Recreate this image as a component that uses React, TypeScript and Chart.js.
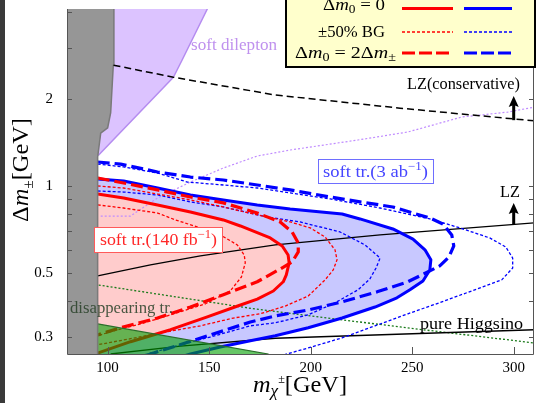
import React, { useEffect, useRef } from "react";
import { Chart, registerables } from "chart.js";

Chart.register(...registerables);

type P = [number, number];

// ---------- axes ----------
const xRange = [80, 310];
const yRange = [0.262, 4.1];
const xTicks = [100, 150, 200, 250, 300];
const yMajorTicks = [0.3, 0.5, 1, 2];
const yMinorTicks = [0.4, 0.6, 0.7, 0.8, 0.9, 3, 4];

// ---------- regions (m_chi [GeV], Delta m [GeV]) ----------
const grayEdge: P[] = [[95.1, 0.2], [95.1, 1.26], [96.6, 1.525], [100.0, 1.588], [101.5, 1.79], [102.8, 2.62], [103.1, 4.1]];
const dileptonEdge: P[] = [[95.6, 1.28], [132.4, 2.38], [136.7, 2.73], [143.2, 3.38], [149.1, 4.1], [161, 6]];
const disappearingEdge: P[] = [[95.1, 0.333], [179.1, 0.262]];

// ---------- lines ----------
const lzConservative: P[] = [[102.9, 2.62], [132.4, 2.38], [182.6, 2.065], [244.0, 1.86], [310.3, 1.68]];
const lz: P[] = [[95.1, 0.488], [121.1, 0.533], [145.7, 0.573], [182.6, 0.625], [234.2, 0.677], [310.3, 0.745]];
const pureHiggsino: P[] = [[101.5, 0.262], [135.9, 0.279], [182.6, 0.297], [311, 0.318]];
const disappearingDotted: P[] = [[95.6, 0.454], [172.7, 0.375], [244.0, 0.325], [310.3, 0.286]];
const dileptonDotted: P[] = [[96.6, 0.787], [111.3, 0.787], [124.6, 0.909], [140.8, 1.032], [157.0, 1.154], [173.7, 1.27], [189.9, 1.332], [223.3, 1.443], [247.9, 1.538], [274.4, 1.733], [297.0, 1.802], [310.3, 1.876]];

// ---------- soft track contours ----------
const redSolid: P[] = [[95.1, 0.938], [107.9, 0.909], [124.6, 0.86], [140.8, 0.813], [157.0, 0.763], [165.4, 0.727], [180.1, 0.661], [186.0, 0.62], [188.9, 0.577], [189.4, 0.542], [188.0, 0.492], [186.5, 0.466], [181.6, 0.433], [173.7, 0.406], [164.4, 0.385], [149.1, 0.352], [131.0, 0.318], [111.3, 0.289], [95.1, 0.264]];
const redDashed: P[] = [[95.1, 1.066], [107.9, 1.024], [124.6, 0.969], [140.8, 0.916], [157.0, 0.874], [173.7, 0.806], [185.0, 0.751], [190.9, 0.693], [193.9, 0.635], [193.9, 0.591], [190.9, 0.546], [185.0, 0.516], [173.7, 0.466], [157.0, 0.42], [140.8, 0.381], [124.6, 0.349], [106.4, 0.323], [95.1, 0.305]];
const redDottedOuter: P[] = [[95.1, 1.0], [107.9, 0.984], [124.6, 0.938], [140.8, 0.895], [157.0, 0.846], [173.7, 0.794], [189.9, 0.751], [199.8, 0.716], [207.1, 0.666], [212.0, 0.601], [213.0, 0.555], [211.1, 0.512], [207.1, 0.473], [198.8, 0.416], [187.5, 0.384], [175.2, 0.361], [161.9, 0.349], [145.7, 0.328], [126.0, 0.31], [111.3, 0.296], [95.1, 0.282]];
const redDottedInner: P[] = [[95.1, 0.86], [107.9, 0.839], [124.6, 0.806], [133.4, 0.763], [145.7, 0.716], [156.5, 0.671], [163.9, 0.625], [167.3, 0.577], [167.8, 0.542], [165.9, 0.484], [160.4, 0.433], [148.2, 0.391], [131.0, 0.358], [116.2, 0.333], [101.5, 0.313], [95.1, 0.303]];
const blueSolid: P[] = [[95.1, 1.057], [107.9, 1.041], [124.6, 0.984], [140.8, 0.931], [157.0, 0.895], [173.7, 0.86], [189.9, 0.833], [215.5, 0.8], [224.3, 0.769], [240.5, 0.71], [250.4, 0.655], [256.3, 0.601], [259.2, 0.555], [258.7, 0.512], [255.3, 0.469], [248.9, 0.437], [242.5, 0.41], [231.7, 0.381], [215.5, 0.349], [198.8, 0.323], [182.6, 0.303], [170.3, 0.291], [155.5, 0.277], [140.8, 0.262], [135.9, 0.256]];
const blueDashed: P[] = [[95.1, 1.211], [106.4, 1.191], [124.6, 1.118], [140.8, 1.074], [157.0, 1.049], [173.7, 1.008], [189.9, 0.969], [209.6, 0.916], [224.3, 0.881], [240.5, 0.846], [250.4, 0.806], [258.7, 0.775], [265.1, 0.739], [269.5, 0.677], [270.5, 0.62], [268.1, 0.568], [263.6, 0.529], [258.7, 0.508], [247.9, 0.466], [232.7, 0.43], [215.5, 0.397], [198.8, 0.372], [182.6, 0.355], [170.3, 0.338], [150.6, 0.305], [133.4, 0.279], [119.7, 0.26]];
const blueDottedOuter: P[] = [[95.1, 1.191], [107.9, 1.164], [124.6, 1.109], [139.3, 1.032], [157.0, 1.008], [173.7, 0.984], [189.9, 0.946], [209.6, 0.902], [234.2, 0.839], [258.7, 0.769], [273.5, 0.716], [288.2, 0.661], [296.1, 0.615], [299.5, 0.563], [299.5, 0.52], [294.1, 0.473], [280.8, 0.437], [264.6, 0.397], [247.9, 0.361], [231.7, 0.328], [215.5, 0.298], [198.8, 0.275], [185.0, 0.258]];
const blueDottedInner: P[] = [[95.1, 0.961], [107.9, 0.953], [124.6, 0.931], [140.8, 0.881], [157.0, 0.846], [178.6, 0.781], [194.8, 0.751], [214.5, 0.693], [226.8, 0.625], [234.2, 0.563], [232.2, 0.52], [229.2, 0.477], [223.3, 0.437], [212.0, 0.394], [198.8, 0.358], [182.6, 0.336], [170.3, 0.328], [150.6, 0.3], [133.4, 0.279], [117.7, 0.26]];

// ---------- LZ arrows ----------
const arrowX = [300, 300];
const arrowFrom = [1.69, 0.735];
const arrowTo = [2.05, 0.873];

// ---------- construction of closed shapes ----------
const below = 0.2;
const above = 6;
const hiddenLeft = 90;
const farRight = 400;
const last = (a: P[]) => a[a.length - 1];
const toBottom = (c: P[]): P[] => [[hiddenLeft, below], [hiddenLeft, c[0][1]], ...c, [last(c)[0], below], [farRight, below]];
const blueRegion = toBottom(blueSolid);
const pinkRegion = toBottom(redSolid);
const grayRegion: P[] = [[xRange[0], above], [xRange[0], below], ...grayEdge, [last(grayEdge)[0] + 0.1, above]];
const dileptonRegion: P[] = [[hiddenLeft, above], [hiddenLeft, dileptonEdge[0][1]], ...dileptonEdge];
const disappearingRegion: P[] = [[hiddenLeft, below], [hiddenLeft, disappearingEdge[0][1]], ...disappearingEdge, [185, below]];

const SERIF = '"Liberation Serif", "DejaVu Serif", serif';
const RED = "#ff0000";
const BLUE = "#0000ff";
const DASH = [12, 5];
const DOT = [3, 2];

const pts = (a: P[]) => a.map(([x, y]) => ({ x, y }));

function line(data: P[], color: string, width: number, dash: number[] = []) {
  return { data: pts(data), borderColor: color, borderWidth: width, borderDash: dash, pointRadius: 0, fill: false, tension: 0, borderCapStyle: "butt", borderJoinStyle: "round" };
}
function area(data: P[], bg: string, border = "rgba(0,0,0,0)", width = 0) {
  return { data: pts(data), backgroundColor: bg, borderColor: border, borderWidth: width, pointRadius: 0, fill: "shape", tension: 0, borderJoinStyle: "round" };
}

type Run = { t: string; s: number; i?: boolean; dy?: number };
const runFont = (r: Run) => `${r.i ? "italic " : ""}${r.s}px ${SERIF}`;

function drawRuns(ctx: CanvasRenderingContext2D, x: number, y: number, runs: Run[], color: string, target?: number) {
  ctx.save();
  ctx.fillStyle = color;
  ctx.textAlign = "left";
  ctx.textBaseline = "alphabetic";
  let w = 0;
  for (const r of runs) {
    ctx.font = runFont(r);
    w += ctx.measureText(r.t).width;
  }
  const k = target ? target / w : 1;
  ctx.translate(x, y);
  ctx.scale(k, 1);
  let cx = 0;
  for (const r of runs) {
    ctx.font = runFont(r);
    ctx.fillText(r.t, cx, r.dy || 0);
    cx += ctx.measureText(r.t).width;
  }
  ctx.restore();
}

function box(ctx: CanvasRenderingContext2D, x: number, y: number, w: number, h: number, stroke: string, fill: string, lw = 1) {
  ctx.save();
  ctx.fillStyle = fill;
  ctx.fillRect(x, y, w, h);
  ctx.strokeStyle = stroke;
  ctx.lineWidth = lw;
  ctx.strokeRect(x, y, w, h);
  ctx.restore();
}

function seg(ctx: CanvasRenderingContext2D, x1: number, x2: number, y: number, color: string, width: number, dash: number[]) {
  ctx.save();
  ctx.strokeStyle = color;
  ctx.lineWidth = width;
  ctx.setLineDash(dash);
  ctx.beginPath();
  ctx.moveTo(x1, y);
  ctx.lineTo(x2, y);
  ctx.stroke();
  ctx.restore();
}

const decor = {
  id: "decor",
  beforeDraw(chart: any) {
    const ctx: CanvasRenderingContext2D = chart.ctx;
    ctx.save();
    ctx.fillStyle = "#ffffff";
    ctx.fillRect(0, 0, chart.width, chart.height);
    ctx.fillStyle = "#3a3a3a";
    ctx.fillRect(0, 0, 5, chart.height);
    ctx.restore();
  },
  afterDatasetsDraw(chart: any) {
    const ctx: CanvasRenderingContext2D = chart.ctx;
    const a = chart.chartArea;
    const xs = chart.scales.x;
    const ys = chart.scales.y;

    // frame + inward ticks
    ctx.save();
    ctx.strokeStyle = "#555555";
    ctx.lineWidth = 1;
    ctx.beginPath();
    ctx.moveTo(a.left + 0.5, a.top);
    ctx.lineTo(a.left + 0.5, a.bottom + 0.5);
    ctx.lineTo(a.right - 0.5, a.bottom + 0.5);
    ctx.lineTo(a.right - 0.5, a.top);
    for (const v of [...yMajorTicks, ...yMinorTicks]) {
      const y = Math.round(ys.getPixelForValue(v)) + 0.5;
      ctx.moveTo(a.left, y);
      ctx.lineTo(a.left + 5, y);
      ctx.moveTo(a.right, y);
      ctx.lineTo(a.right - 5, y);
    }
    for (const v of xTicks) {
      const x = Math.round(xs.getPixelForValue(v)) + 0.5;
      ctx.moveTo(x, a.bottom);
      ctx.lineTo(x, a.bottom - 7);
    }
    ctx.stroke();
    ctx.restore();

    // arrows
    ctx.save();
    ctx.strokeStyle = "#000";
    ctx.fillStyle = "#000";
    ctx.lineWidth = 3;
    for (let i = 0; i < arrowX.length; i++) {
      const x = xs.getPixelForValue(arrowX[i]);
      const y1 = ys.getPixelForValue(arrowFrom[i]);
      const y2 = ys.getPixelForValue(arrowTo[i]);
      ctx.beginPath();
      ctx.moveTo(x, y1);
      ctx.lineTo(x, y2 + 8);
      ctx.stroke();
      ctx.beginPath();
      ctx.moveTo(x, y2);
      ctx.lineTo(x - 5, y2 + 11);
      ctx.lineTo(x, y2 + 9);
      ctx.lineTo(x + 5, y2 + 11);
      ctx.closePath();
      ctx.fill();
    }
    ctx.restore();

    // labels
    drawRuns(ctx, 191, 50, [{ t: "soft dilepton", s: 17 }], "#bf91ee", 86);
    drawRuns(ctx, 407, 89, [{ t: "LZ(conservative)", s: 17 }], "#000", 113);
    drawRuns(ctx, 500, 197, [{ t: "LZ", s: 17 }], "#000", 20);
    drawRuns(ctx, 420, 329, [{ t: "pure Higgsino", s: 17 }], "#000", 103);
    drawRuns(ctx, 70, 313, [{ t: "disappearing tr.", s: 17 }], "rgba(40,65,40,0.85)", 103);

    box(ctx, 318.5, 159.5, 115, 24, "#6e6eff", "#ffffff");
    drawRuns(ctx, 323, 177, [{ t: "soft tr.(3 ab", s: 17 }, { t: "\u22121", s: 12, dy: -7 }, { t: ")", s: 17 }], "#4646ff", 105);
    box(ctx, 94.5, 227.5, 128, 25, "#ff5a5a", "#ffffff");
    drawRuns(ctx, 100, 245, [{ t: "soft tr.(140 fb", s: 17 }, { t: "\u22121", s: 12, dy: -7 }, { t: ")", s: 17 }], "#ff2828", 117);

    // legend
    box(ctx, 286, -14, 249, 81, "#000000", "#ffffcc", 2);
    drawRuns(ctx, 323, 10, [{ t: "\u0394", s: 17 }, { t: "m", s: 17, i: true }, { t: "0", s: 12, dy: 3 }, { t: " = 0", s: 17 }], "#000", 62);
    drawRuns(ctx, 318, 36.5, [{ t: "\u00b150% BG", s: 17 }], "#000", 67);
    drawRuns(ctx, 295, 58, [{ t: "\u0394", s: 17 }, { t: "m", s: 17, i: true }, { t: "0", s: 12, dy: 3 }, { t: " = 2\u0394", s: 17 }, { t: "m", s: 17, i: true }, { t: "\u00b1", s: 12, dy: 3 }], "#000", 101);
    seg(ctx, 402, 453, 8.5, RED, 3, []);
    seg(ctx, 464, 512, 8.5, BLUE, 3, []);
    seg(ctx, 402, 453, 32, RED, 1.3, DOT);
    seg(ctx, 464, 512, 32, BLUE, 1.3, DOT);
    seg(ctx, 402, 453, 53, RED, 3.2, [13, 4]);
    seg(ctx, 464, 512, 53, BLUE, 3.2, [13, 4]);

    // axis titles
    drawRuns(ctx, 253, 392, [{ t: "m", s: 24, i: true }, { t: "\u03c7", s: 17, i: true, dy: 4 }, { t: "\u00b1", s: 12, dy: -9 }, { t: "[GeV]", s: 24 }], "#000", 94);
    ctx.save();
    ctx.translate(28, 222);
    ctx.rotate(-Math.PI / 2);
    drawRuns(ctx, 0, 0, [{ t: "\u0394", s: 24 }, { t: "m", s: 24, i: true }, { t: "\u00b1", s: 15, dy: 5 }, { t: "[GeV]", s: 24 }], "#000", 104);
    ctx.restore();
  },
};

const drawList: any[] = [
  area(blueRegion, "#c8c8ff"),
  area(pinkRegion, "#ffcccc"),
  line(lz, "#000000", 1.3),
  line(dileptonDotted, "#c08cff", 1.2, [2, 2]),
  line(disappearingDotted, "#1a7a1a", 1.3, [2, 2]),
  line(pureHiggsino, "#000000", 1.3),
  line(blueDottedOuter, BLUE, 1.3, DOT),
  line(blueDottedInner, BLUE, 1.3, DOT),
  line(blueDashed, BLUE, 3.2, DASH),
  line(blueSolid, BLUE, 3),
  line(redDottedOuter, RED, 1.3, DOT),
  line(redDottedInner, RED, 1.3, DOT),
  line(redDashed, RED, 3.2, DASH),
  line(redSolid, RED, 3),
  area(disappearingRegion, "rgba(0,160,0,0.6)", "#2a6e2a", 1.2),
  area(dileptonRegion, "#dcc3ff", "#b58cf0", 1.5),
  area(grayRegion, "#969696", "#7a7a7a", 1.5),
  line(lzConservative, "#000000", 1.5, [7, 4]),
];

export default function App() {
  const ref = useRef<HTMLCanvasElement>(null);
  useEffect(() => {
    const datasets = drawList.map((d, i) => ({ ...d, order: drawList.length - i }));
    const chart = new Chart(ref.current as HTMLCanvasElement, {
      type: "line",
      data: { datasets } as any,
      options: {
        responsive: false,
        animation: false,
        events: [],
        layout: { padding: { left: 0, right: 16, top: 9, bottom: 0 } },
        plugins: {
          legend: { display: false },
          tooltip: { enabled: false },
          filler: { drawTime: "beforeDatasetDraw", propagate: false },
        } as any,
        scales: {
          x: {
            type: "linear",
            min: xRange[0],
            max: xRange[1],
            grid: { display: false, drawTicks: false },
            border: { display: false },
            ticks: { color: "#000", font: { family: SERIF, size: 15 }, padding: 5, maxRotation: 0, autoSkip: false, callback: (v: any) => String(v) },
            afterBuildTicks: (s: any) => { s.ticks = xTicks.map((value) => ({ value })); },
            afterFit: (s: any) => { s.height = 49; s.paddingLeft = 0; s.paddingRight = 0; },
          },
          y: {
            type: "logarithmic",
            min: yRange[0],
            max: yRange[1],
            grid: { display: false, drawTicks: false },
            border: { display: false },
            ticks: { color: "#000", font: { family: SERIF, size: 15 }, padding: 14, autoSkip: false, callback: (v: any) => String(v) },
            afterBuildTicks: (s: any) => { s.ticks = yMajorTicks.map((value) => ({ value })); },
            afterFit: (s: any) => { s.width = 67; s.paddingTop = 0; s.paddingBottom = 0; },
          },
        } as any,
      },
      plugins: [decor as any],
    });
    return () => chart.destroy();
  }, []);
  return (
    <div style={{ position: "fixed", left: 0, top: 0, width: 550, height: 403 }}>
      <canvas ref={ref} width={550} height={403} style={{ display: "block", width: 550, height: 403 }} />
    </div>
  );
}
